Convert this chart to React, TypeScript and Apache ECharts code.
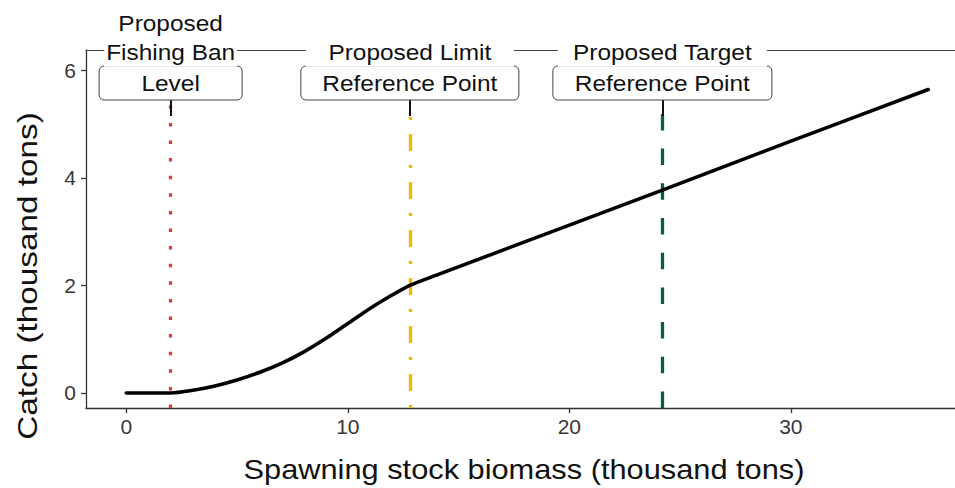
import React, { useEffect, useRef } from "react";
import * as echarts from "echarts";

// Harvest control rule: catch as a function of spawning stock biomass (thousand tons)
const biomass = [0, 1, 2, 3, 4, 5, 6, 7, 8, 9, 10, 11, 12, 12.8, 14, 20, 24.2, 30, 36.2];
const catchValues = [0, 0, 0, 0.05, 0.13, 0.24, 0.38, 0.55, 0.76, 1.01, 1.29, 1.57, 1.82, 2.0, 2.19, 3.12, 3.77, 4.68, 5.64];

const xTicks = [0, 10, 20, 30];
const yTicks = [0, 2, 4, 6];

// Reference points along the biomass axis
const refBiomass = [2.0, 12.8, 24.2];
const refHeadings = [["Proposed", "Fishing Ban"], ["Proposed Limit"], ["Proposed Target"]];
const refBoxText = ["Level", "Reference Point", "Reference Point"];

const REF_COLORS = ["#da3f38", "#f5b800", "#0b5c45"];
const REF_DASH = [[3.5, 14.1], [3, 14, 17, 14], [16.5, 18.2]];
const REF_BOX_WIDTH = [143, 218, 219];

const X_MIN = -1.82;
const X_MAX = 37.41;
const Y_MIN = -0.28;
const Y_MAX = 6.375;
const GRID = { left: 86, right: 0, top: 50, bottom: 80 };
const FONT = "'Liberation Sans', Arial, sans-serif";
const TEXT_STRETCH = 1.11;

export default function App() {
  const ref = useRef<HTMLDivElement>(null);

  useEffect(() => {
    document.body.style.margin = "0";
    const chart = echarts.init(ref.current!, null, { renderer: "svg" });

    const markData: any[] = [];
    refBiomass.forEach((x, i) => {
      markData.push([
        { coord: [x, Y_MIN], lineStyle: { color: REF_COLORS[i], width: 3.3, type: REF_DASH[i], cap: "butt" } },
        { coord: [x, 5.35] },
      ]);
      markData.push([
        { coord: [x, 5.15], lineStyle: { color: "#111", width: 2, type: "solid" } },
        { coord: [x, 5.45] },
      ]);
    });

    const option: any = {
      animation: false,
      grid: { ...GRID, containLabel: false },
      xAxis: [
        {
          type: "value",
          min: X_MIN,
          max: X_MAX,
          splitLine: { show: false },
          axisLine: { show: true, onZero: false, lineStyle: { color: "#333", width: 1.3 } },
          axisTick: { show: true, length: 5, customValues: xTicks, lineStyle: { color: "#333", width: 1.3 } },
          axisLabel: {
            customValues: xTicks,
            color: "#383838",
            fontSize: 21,
            fontFamily: FONT,
            margin: 8,
          },
        },
        {
          type: "value",
          position: "top",
          min: X_MIN,
          max: X_MAX,
          splitLine: { show: false },
          axisLine: { show: true, onZero: false, lineStyle: { color: "#444", width: 1 } },
          axisTick: { show: false },
          axisLabel: { show: false },
        },
      ],
      yAxis: {
        type: "value",
        min: Y_MIN,
        max: Y_MAX,
        splitLine: { show: false },
        axisLine: { show: true, onZero: false, lineStyle: { color: "#333", width: 1.3 } },
        axisTick: { show: true, length: 5, customValues: yTicks, lineStyle: { color: "#333", width: 1.3 } },
        axisLabel: {
          customValues: yTicks,
          color: "#383838",
          fontSize: 21,
          fontFamily: FONT,
          margin: 10,
        },
      },
      series: [
        {
          type: "line",
          name: "references",
          data: [],
          markLine: { silent: true, symbol: ["none", "none"], label: { show: false }, data: markData },
        },
        {
          type: "line",
          name: "Catch",
          data: biomass.map((x, i) => [x, catchValues[i]]),
          showSymbol: false,
          symbol: "none",
          smooth: 0.25,
          lineStyle: { color: "#000", width: 3.6, join: "round", cap: "round" },
          z: 5,
        },
      ],
    };
    chart.setOption(option);

    const top = GRID.top;
    const graphic: any[] = [];
    refBiomass.forEach((x, i) => {
      const cx = chart.convertToPixel({ xAxisIndex: 0 }, x) as number;
      const w = REF_BOX_WIDTH[i];
      graphic.push({
        type: "rect",
        z: 100,
        shape: { x: cx - w / 2, y: top + 16, width: w, height: 34, r: 5 },
        style: { fill: "#fff", stroke: "#444", lineWidth: 1 },
      });
      graphic.push({
        type: "rect",
        z: 101,
        shape: { x: cx - w / 2 + 5, y: 0, width: w - 10, height: top + 16.7 },
        style: { fill: "#fff" },
      });
      const heads = refHeadings[i];
      heads.forEach((t, k) => {
        const yy = top + 2 - (heads.length - 1 - k) * 29;
        graphic.push({
          type: "text",
          z: 102,
          x: cx,
          y: yy,
          scaleX: TEXT_STRETCH,
          style: { text: t, fontSize: 22, fontFamily: FONT, fill: "#111", textAlign: "center", textVerticalAlign: "middle" },
        });
      });
      graphic.push({
        type: "text",
        z: 102,
        x: cx,
        y: top + 33,
        scaleX: TEXT_STRETCH,
        style: { text: refBoxText[i], fontSize: 22, fontFamily: FONT, fill: "#111", textAlign: "center", textVerticalAlign: "middle" },
      });
    });

    // Axis titles
    graphic.push({
      type: "text",
      x: 524,
      y: 470,
      scaleX: 1.14,
      style: { text: "Spawning stock biomass (thousand tons)", fontSize: 27, fontFamily: FONT, fill: "#111", textAlign: "center", textVerticalAlign: "middle" },
    });
    graphic.push({
      type: "text",
      x: 27,
      y: 276,
      rotation: Math.PI / 2,
      scaleX: 1.19,
      style: { text: "Catch (thousand tons)", fontSize: 28, fontFamily: FONT, fill: "#111", textAlign: "center", textVerticalAlign: "middle" },
    });

    chart.setOption({ graphic });

    return () => chart.dispose();
  }, []);

  return <div ref={ref} style={{ width: 955, height: 488 }} />;
}
